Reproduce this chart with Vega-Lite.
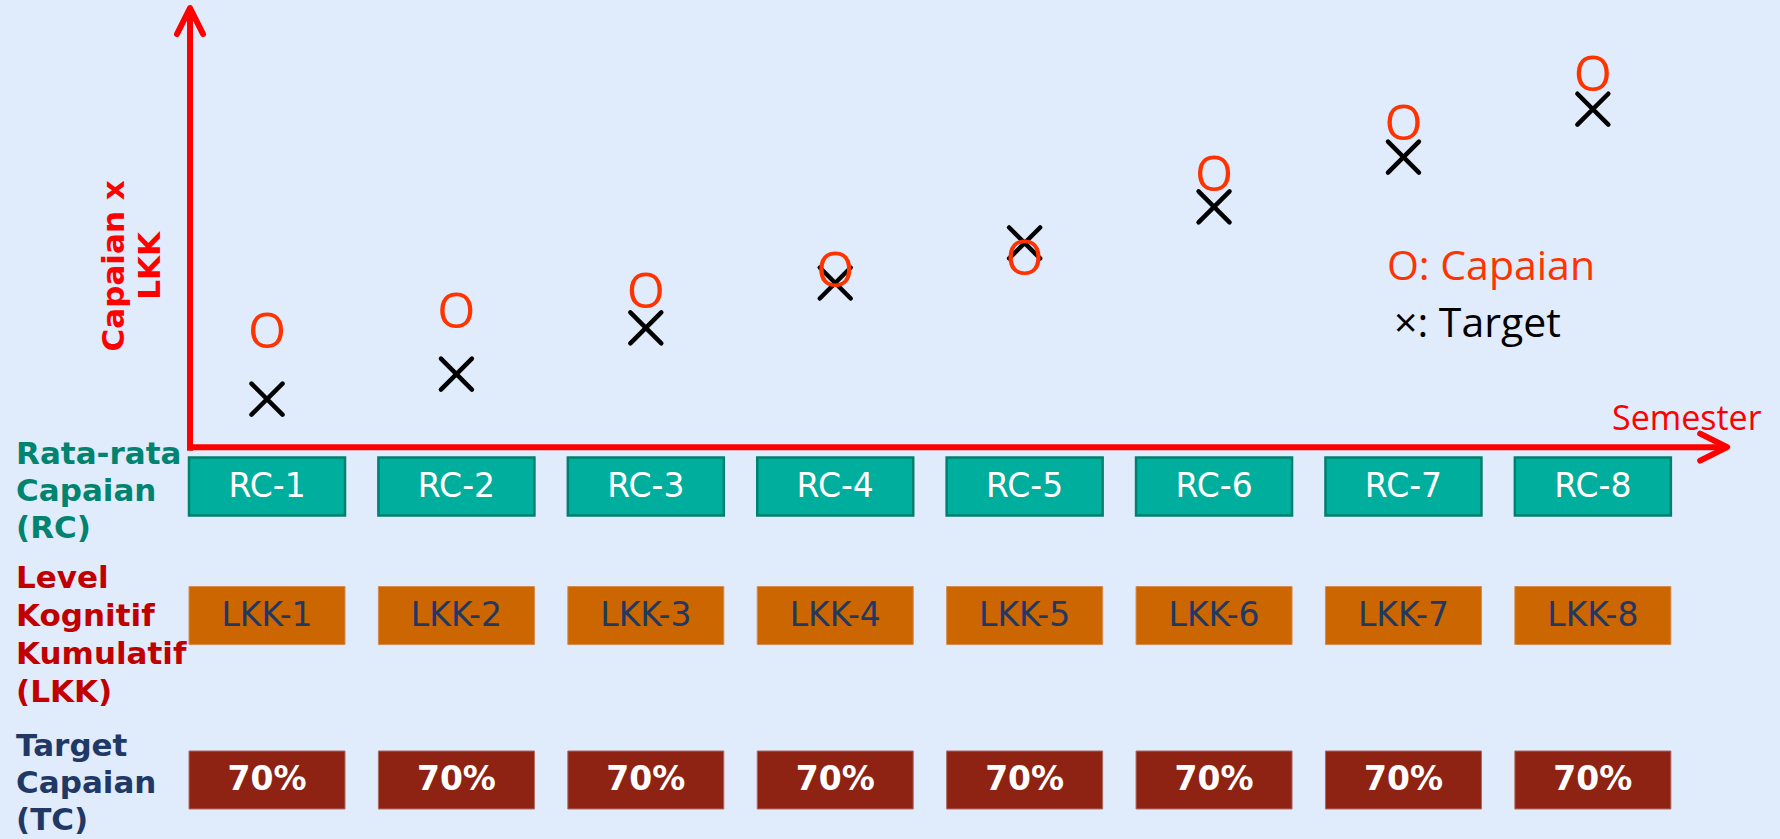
{
  "$schema": "https://vega.github.io/schema/vega-lite/v6.json",
  "width": 1780,
  "height": 839,
  "padding": 0,
  "autosize": {"type": "none"},
  "background": "#E0EBFC",
  "config": {"view": {"stroke": null}},
  "datasets": {
    "scores": [
      {"semester": 1, "capaian": 26.1, "target": 11.1},
      {"semester": 2, "capaian": 30.7, "target": 16.8},
      {"semester": 3, "capaian": 35.2, "target": 27.3},
      {"semester": 4, "capaian": 40.0, "target": 37.5},
      {"semester": 5, "capaian": 42.7, "target": 46.6},
      {"semester": 6, "capaian": 61.8, "target": 54.8},
      {"semester": 7, "capaian": 73.4, "target": 66.1},
      {"semester": 8, "capaian": 84.5, "target": 77.0}
    ],
    "table": [
      {"semester": 1, "row": "RC", "label": "RC-1"},
      {"semester": 2, "row": "RC", "label": "RC-2"},
      {"semester": 3, "row": "RC", "label": "RC-3"},
      {"semester": 4, "row": "RC", "label": "RC-4"},
      {"semester": 5, "row": "RC", "label": "RC-5"},
      {"semester": 6, "row": "RC", "label": "RC-6"},
      {"semester": 7, "row": "RC", "label": "RC-7"},
      {"semester": 8, "row": "RC", "label": "RC-8"},
      {"semester": 1, "row": "LKK", "label": "LKK-1"},
      {"semester": 2, "row": "LKK", "label": "LKK-2"},
      {"semester": 3, "row": "LKK", "label": "LKK-3"},
      {"semester": 4, "row": "LKK", "label": "LKK-4"},
      {"semester": 5, "row": "LKK", "label": "LKK-5"},
      {"semester": 6, "row": "LKK", "label": "LKK-6"},
      {"semester": 7, "row": "LKK", "label": "LKK-7"},
      {"semester": 8, "row": "LKK", "label": "LKK-8"},
      {"semester": 1, "row": "TC", "label": "70%"},
      {"semester": 2, "row": "TC", "label": "70%"},
      {"semester": 3, "row": "TC", "label": "70%"},
      {"semester": 4, "row": "TC", "label": "70%"},
      {"semester": 5, "row": "TC", "label": "70%"},
      {"semester": 6, "row": "TC", "label": "70%"},
      {"semester": 7, "row": "TC", "label": "70%"},
      {"semester": 8, "row": "TC", "label": "70%"}
    ],
    "one": [{}]
  },
  "layer": [
    {
      "data": {"name": "one"},
      "mark": {"type": "rule", "color": "#FF0000", "strokeWidth": 6, "strokeCap": "butt"},
      "encoding": {
        "x": {"datum": 0.5935, "type": "quantitative", "scale": {"domain": [-0.4097, 8.988], "nice": false, "zero": false}, "axis": null},
        "y": {"datum": -0.6, "type": "quantitative", "scale": {"domain": [-88.86, 101.82], "nice": false, "zero": false}, "axis": null},
        "y2": {"datum": 99.5}
      }
    },
    {
      "data": {"name": "one"},
      "mark": {"type": "rule", "color": "#FF0000", "strokeWidth": 6, "strokeCap": "butt"},
      "encoding": {
        "x": {"datum": 0.5935, "type": "quantitative"},
        "x2": {"datum": 8.69},
        "y": {"datum": 0.2, "type": "quantitative"}
      }
    },
    {
      "data": {"name": "one"},
      "mark": {"type": "point", "shape": "M-1,2L0,0L1,2", "size": 676, "filled": false, "stroke": "#FF0000", "strokeWidth": 6, "strokeCap": "round", "strokeJoin": "round", "opacity": 1},
      "encoding": {
        "x": {"datum": 0.5935, "type": "quantitative"},
        "y": {"datum": 100, "type": "quantitative"}
      }
    },
    {
      "data": {"name": "one"},
      "mark": {"type": "point", "shape": "M-2,-1L0,0L-2,1", "size": 729, "filled": false, "stroke": "#FF0000", "strokeWidth": 6, "strokeCap": "round", "strokeJoin": "round", "opacity": 1},
      "encoding": {
        "x": {"datum": 8.709, "type": "quantitative"},
        "y": {"datum": 0.2, "type": "quantitative"}
      }
    },
    {
      "data": {"name": "one"},
      "mark": {"type": "text", "text": ["Capaian x", "LKK"], "font": "DejaVu Sans", "fontWeight": "bold", "fontSize": 31, "lineHeight": 36, "color": "#FF0000", "angle": 270, "align": "center", "baseline": "middle"},
      "encoding": {
        "x": {"datum": 0.198, "type": "quantitative"},
        "y": {"datum": 41.4, "type": "quantitative"}
      }
    },
    {
      "data": {"name": "one"},
      "mark": {"type": "text", "text": "Semester", "font": "Open Sans", "fontSize": 34, "color": "#FF0000", "align": "left", "baseline": "alphabetic"},
      "encoding": {
        "x": {"datum": 8.101, "type": "quantitative"},
        "y": {"datum": 4.09, "type": "quantitative"}
      }
    },
    {
      "data": {"name": "one"},
      "mark": {"type": "text", "text": "O: Capaian", "font": "Open Sans", "fontSize": 41, "color": "#FF3300", "align": "left", "baseline": "alphabetic"},
      "encoding": {
        "x": {"datum": 6.913, "type": "quantitative"},
        "y": {"datum": 38.18, "type": "quantitative"}
      }
    },
    {
      "data": {"name": "one"},
      "mark": {"type": "text", "text": "×: Target", "font": "Open Sans", "fontSize": 41, "color": "#000000", "align": "left", "baseline": "alphabetic"},
      "encoding": {
        "x": {"datum": 6.95, "type": "quantitative"},
        "y": {"datum": 25.23, "type": "quantitative"}
      }
    },
    {
      "data": {"name": "scores"},
      "mark": {"type": "point", "shape": "M-1,-1L1,1M1,-1L-1,1", "size": 960, "filled": false, "stroke": "#000000", "strokeWidth": 4.5, "strokeCap": "round", "opacity": 1},
      "encoding": {
        "x": {"field": "semester", "type": "quantitative"},
        "y": {"field": "target", "type": "quantitative"}
      }
    },
    {
      "data": {"name": "scores"},
      "mark": {"type": "text", "text": "O", "font": "Open Sans", "fontSize": 49, "color": "#FF3300", "align": "center", "baseline": "middle"},
      "encoding": {
        "x": {"field": "semester", "type": "quantitative"},
        "y": {"field": "capaian", "type": "quantitative"}
      }
    },
    {
      "data": {"name": "table"},
      "transform": [{"filter": "datum.row === 'RC'"}],
      "mark": {"type": "rect", "width": 156, "height": 58, "fill": "#00AE9D", "stroke": "#00806E", "strokeWidth": 2.5},
      "encoding": {
        "x": {"field": "semester", "type": "quantitative"},
        "y": {"datum": -8.75, "type": "quantitative"}
      }
    },
    {
      "data": {"name": "table"},
      "transform": [{"filter": "datum.row === 'RC'"}],
      "mark": {"type": "text", "font": "DejaVu Sans", "fontSize": 33, "color": "#FFFFFF", "align": "center", "baseline": "middle"},
      "encoding": {
        "x": {"field": "semester", "type": "quantitative"},
        "y": {"datum": -8.75, "type": "quantitative"},
        "text": {"field": "label"}
      }
    },
    {
      "data": {"name": "table"},
      "transform": [{"filter": "datum.row === 'LKK'"}],
      "mark": {"type": "rect", "width": 156, "height": 58, "fill": "#CC6600", "stroke": "#D98A4E", "strokeWidth": 1},
      "encoding": {
        "x": {"field": "semester", "type": "quantitative"},
        "y": {"datum": -38.07, "type": "quantitative"}
      }
    },
    {
      "data": {"name": "table"},
      "transform": [{"filter": "datum.row === 'LKK'"}],
      "mark": {"type": "text", "font": "DejaVu Sans", "fontSize": 33, "color": "#1F3864", "align": "center", "baseline": "middle"},
      "encoding": {
        "x": {"field": "semester", "type": "quantitative"},
        "y": {"datum": -38.07, "type": "quantitative"},
        "text": {"field": "label"}
      }
    },
    {
      "data": {"name": "table"},
      "transform": [{"filter": "datum.row === 'TC'"}],
      "mark": {"type": "rect", "width": 156, "height": 58, "fill": "#8E2314", "stroke": "#B06A60", "strokeWidth": 1},
      "encoding": {
        "x": {"field": "semester", "type": "quantitative"},
        "y": {"datum": -75.45, "type": "quantitative"}
      }
    },
    {
      "data": {"name": "table"},
      "transform": [{"filter": "datum.row === 'TC'"}],
      "mark": {"type": "text", "font": "DejaVu Sans", "fontWeight": "bold", "fontSize": 33, "color": "#FFFFFF", "align": "center", "baseline": "middle"},
      "encoding": {
        "x": {"field": "semester", "type": "quantitative"},
        "y": {"datum": -75.45, "type": "quantitative"},
        "text": {"field": "label"}
      }
    },
    {
      "data": {"name": "one"},
      "mark": {"type": "text", "text": ["Rata-rata", "Capaian", "(RC)"], "font": "DejaVu Sans", "fontWeight": "bold", "fontSize": 31, "lineHeight": 37, "color": "#00836F", "align": "left", "baseline": "alphabetic"},
      "encoding": {
        "x": {"datum": -0.325, "type": "quantitative"},
        "y": {"datum": -3.64, "type": "quantitative"}
      }
    },
    {
      "data": {"name": "one"},
      "mark": {"type": "text", "text": ["Level", "Kognitif", "Kumulatif", "(LKK)"], "font": "DejaVu Sans", "fontWeight": "bold", "fontSize": 31, "lineHeight": 38, "color": "#C00000", "align": "left", "baseline": "alphabetic"},
      "encoding": {
        "x": {"datum": -0.325, "type": "quantitative"},
        "y": {"datum": -31.8, "type": "quantitative"}
      }
    },
    {
      "data": {"name": "one"},
      "mark": {"type": "text", "text": ["Target", "Capaian", "(TC)"], "font": "DejaVu Sans", "fontWeight": "bold", "fontSize": 31, "lineHeight": 37, "color": "#1F3864", "align": "left", "baseline": "alphabetic"},
      "encoding": {
        "x": {"datum": -0.325, "type": "quantitative"},
        "y": {"datum": -70.0, "type": "quantitative"}
      }
    }
  ]
}
